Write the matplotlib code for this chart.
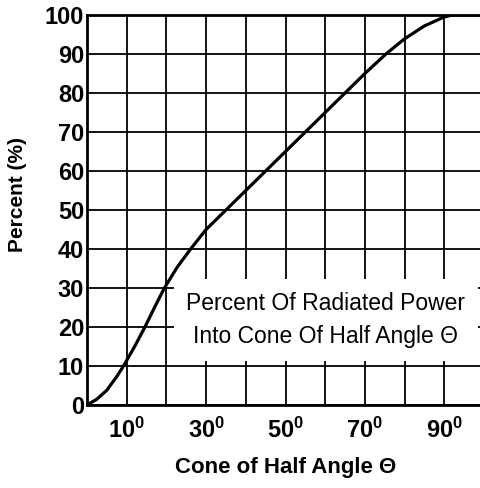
import matplotlib
matplotlib.use('Agg')
import matplotlib.pyplot as plt

plt.rcParams['font.family'] = ['Liberation Sans', 'DejaVu Sans']
plt.rcParams['mathtext.fontset'] = 'custom'
plt.rcParams['mathtext.rm'] = 'Liberation Sans'
plt.rcParams['mathtext.bf'] = 'Liberation Sans:bold'

# values
angle = [0, 2.5, 5, 7.5, 9.2, 12, 14.6, 17, 19.5, 22.7, 26.1, 30, 35, 40,
         50, 60, 70, 75.3, 80, 85, 90, 92, 100]
percent = [0, 1.5, 3.8, 7.3, 10, 15, 20, 25, 30, 35.3, 40, 45, 50, 55,
           65, 75, 85, 90, 93.9, 97.2, 99.5, 100, 100]

x_labeled = [10, 30, 50, 70, 90]
x_grid = list(range(0, 101, 10))
y_ticks = list(range(0, 101, 10))
box_text = 'Percent Of Radiated Power\nInto Cone Of Half Angle Θ'

fig = plt.figure(figsize=(4.8, 4.88), dpi=100)
ax = fig.add_axes([87 / 480, 83 / 488, 397 / 480, 390 / 488])

ax.plot(angle, percent, color='black', lw=2.3, zorder=3,
        solid_capstyle='round', solid_joinstyle='round')

ax.set_xlim(0, 100)
ax.set_ylim(0, 100)
ax.set_xticks(x_grid, minor=True)
ax.set_xticks(x_labeled)
ax.set_xticklabels([r'$\mathbf{%d^{0}}$' % v for v in x_labeled], fontsize=17)
ax.set_yticks(y_ticks)
ax.set_yticklabels([str(v) for v in y_ticks], fontsize=17, fontweight='bold')
ax.tick_params(axis='both', which='both', length=0)
ax.tick_params(axis='x', pad=9)
ax.tick_params(axis='y', pad=2)

ax.grid(True, which='both', color='black', lw=1.3, zorder=1)
ax.set_axisbelow(True)
for side in ['left', 'bottom', 'top']:
    ax.spines[side].set_linewidth(2.0)
ax.spines['right'].set_visible(False)

ax.set_xlabel('Cone of Half Angle Θ', fontsize=16, fontweight='bold', labelpad=10)
ax.set_ylabel('Percent (%)', fontsize=15, fontweight='bold')
ax.yaxis.set_label_coords(-0.15, 0.54)

ax.text(60.2, 21.8, box_text, fontsize=16.5, ha='center', va='center',
        multialignment='center', linespacing=1.55, zorder=4,
        bbox=dict(facecolor='white', edgecolor='none', pad=9))

fig.savefig('out.png', dpi=100)
